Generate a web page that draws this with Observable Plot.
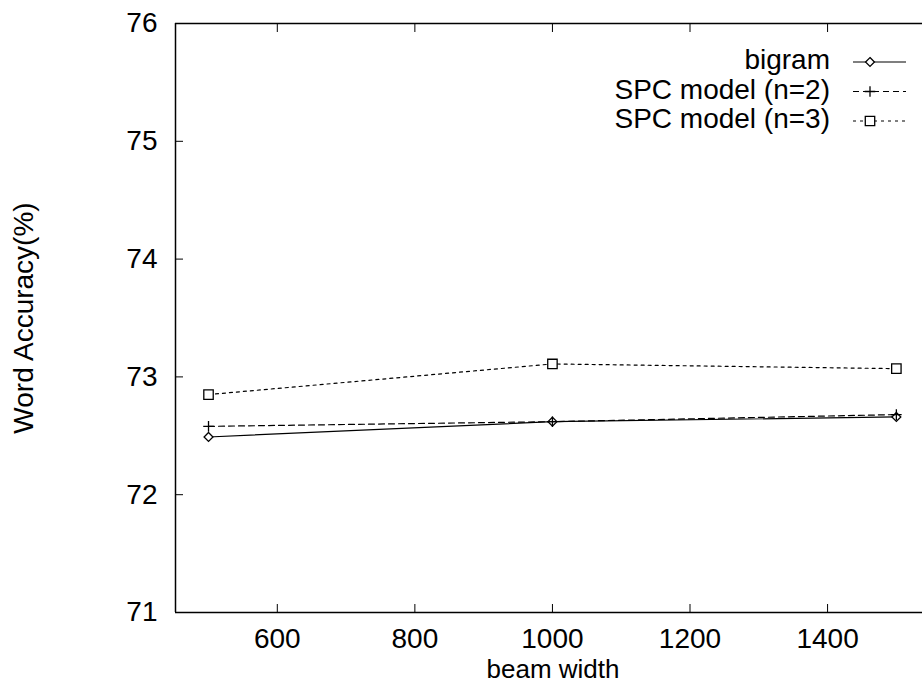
<!DOCTYPE html>
<html>
<head>
<meta charset="utf-8">
<script src="https://cdn.jsdelivr.net/npm/d3@7"></script>
<script src="https://cdn.jsdelivr.net/npm/@observablehq/plot@0.6"></script>
<style>
  html, body { margin: 0; padding: 0; background: #fff; }
  #wrap { position: relative; width: 922px; height: 684px; overflow: hidden; }
</style>
</head>
<body>
<div id="wrap"></div>
<script>
// ---- data ----
const beamWidths = [500, 1000, 1500];
const bigram = [72.49, 72.62, 72.66];
const spc2 = [72.58, 72.62, 72.68];
const spc3 = [72.85, 73.11, 73.07];
const seriesNames = ["bigram", "SPC model (n=2)", "SPC model (n=3)"];
const xTicks = [600, 800, 1000, 1200, 1400];
const yTicks = [71, 72, 73, 74, 75, 76];
const xDomain = [452, 1538];
const yDomain = [71, 76];

const styles = {
  "bigram": {dash: null, symbol: "diamond2", r: 4},
  "SPC model (n=2)": {dash: "6,4", symbol: "plus", r: 3.5},
  "SPC model (n=3)": {dash: "3,4", symbol: "square2", r: 6}
};

const seriesValues = [bigram, spc2, spc3];
const rows = [];
seriesNames.forEach((name, i) => {
  beamWidths.forEach((b, j) => rows.push({series: name, beam: b, acc: seriesValues[i][j]}));
});

const font = "Liberation Sans, Arial, Helvetica, sans-serif";
const fs = 28;

const marks = [
  Plot.ruleX([xDomain[0]], {stroke: "black", strokeWidth: 1.5}),
  Plot.ruleY(yDomain, {stroke: "black", strokeWidth: 1.5}),
  Plot.axisY({ticks: yTicks, tickSize: 0, tickPadding: 18, tickFormat: d => String(d), label: null, fontSize: fs}),
  Plot.axisY({ticks: yTicks, tickSize: -8, tickFormat: () => "", label: null}),
  Plot.axisX({ticks: xTicks, tickSize: 0, tickPadding: 16, tickFormat: d => String(d), label: null, fontSize: fs}),
  Plot.axisX({ticks: xTicks, tickSize: -8, tickFormat: () => "", label: null}),
  Plot.axisX({anchor: "top", ticks: xTicks, tickSize: -8, tickFormat: () => "", label: null})
];
seriesNames.forEach(name => {
  const s = styles[name];
  const data = rows.filter(r => r.series === name);
  marks.push(Plot.line(data, {x: "beam", y: "acc", stroke: "black", strokeWidth: 1.2, strokeDasharray: s.dash}));
  marks.push(Plot.dot(data, {x: "beam", y: "acc", symbol: () => s.symbol, r: s.r, stroke: "black", strokeWidth: 1.3, fill: "white"}));
});

const chart = Plot.plot({
  width: 922,
  height: 684,
  marginLeft: 175,
  marginRight: 0,
  marginTop: 23,
  marginBottom: 72,
  style: {fontFamily: font, fontSize: fs + "px", color: "black", background: "white"},
  x: {domain: xDomain, axis: null},
  y: {domain: yDomain, axis: null},
  symbol: {type: "identity"},
  marks
});

const wrap = document.getElementById("wrap");
wrap.appendChild(chart);

// axis titles
const svg = d3.select(chart);
svg.append("text")
  .attr("x", 553).attr("y", 678)
  .attr("text-anchor", "middle")
  .attr("font-family", font).attr("font-size", 26)
  .text("beam width");
svg.append("text")
  .attr("transform", "translate(26,318) rotate(-90)")
  .attr("text-anchor", "middle").attr("dominant-baseline", "middle")
  .attr("font-family", font).attr("font-size", fs)
  .text("Word Accuracy(%)");

// legend
const lg = svg.append("g");
seriesNames.forEach((name, i) => {
  const s = styles[name];
  const y = 62 + i * 29.5;
  lg.append("text").attr("x", 830).attr("y", y)
    .attr("text-anchor", "end").attr("dominant-baseline", "middle")
    .attr("font-family", font).attr("font-size", fs).text(name);
  lg.append("line").attr("x1", 853).attr("x2", 906).attr("y1", y).attr("y2", y)
    .attr("stroke", "black").attr("stroke-width", 1.2)
    .attr("stroke-dasharray", s.dash);
  const sym = {diamond2: d3.symbolDiamond2, plus: d3.symbolPlus, square2: d3.symbolSquare2}[s.symbol];
  lg.append("path").attr("transform", `translate(870,${y})`)
    .attr("d", d3.symbol(sym, Math.PI * s.r * s.r)())
    .attr("stroke", "black").attr("stroke-width", 1.3).attr("fill", "white");
});
</script>
</body>
</html>
